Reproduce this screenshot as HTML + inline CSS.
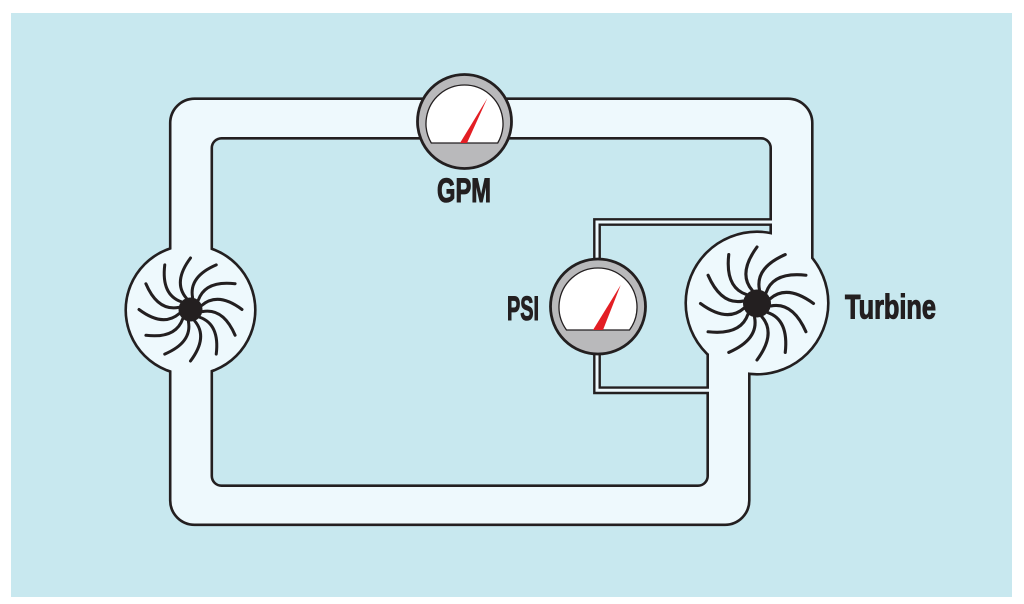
<!DOCTYPE html>
<html>
<head>
<meta charset="utf-8">
<style>
  html, body { margin: 0; padding: 0; background: #ffffff; }
  body { width: 1024px; height: 604px; overflow: hidden; }
  svg { display: block; }
  .lbl { font-family: "Liberation Sans", "DejaVu Sans", sans-serif; font-weight: bold; font-size: 34px; fill: #231f20; stroke: #231f20; stroke-width: 1.1; }
</style>
</head>
<body>
<svg width="1024" height="604" viewBox="0 0 1024 604" xmlns="http://www.w3.org/2000/svg">
  <!-- background -->
  <rect x="0" y="0" width="1024" height="604" fill="#ffffff"/>
  <rect x="11" y="13" width="1001" height="584" fill="#c8e8ef"/>

  <!-- PASS 1: strokes -->
  <g stroke="#231f20" stroke-width="5.2" fill="#eef9fd">
    <path fill-rule="evenodd" d="M 194.5 100 H 788 A 23 23 0 0 1 811 123 V 275 L 748 360 V 500.5 A 23 23 0 0 1 725 523.5 H 194.5 A 23 23 0 0 1 171.5 500.5 V 123 A 23 23 0 0 1 194.5 100 Z
      M 221.5 137 H 761 A 11 11 0 0 1 772 148 V 240 L 709 345 V 476 A 11 11 0 0 1 698 487 H 221.5 A 11 11 0 0 1 210.5 476 V 148 A 11 11 0 0 1 221.5 137 Z"/>
    <circle cx="190.5" cy="310" r="63.5"/>
    <circle cx="757" cy="303" r="70"/>
  </g>
  <g fill="none" stroke="#231f20" stroke-width="7.8" stroke-linejoin="miter">
    <path d="M 597 262 V 222 H 778"/>
    <path d="M 597 352 V 390.3 H 715"/>
  </g>

  <!-- PASS 2: fills (union) -->
  <g stroke="none" fill="#eef9fd">
    <path fill-rule="evenodd" d="M 194.5 100 H 788 A 23 23 0 0 1 811 123 V 275 L 748 360 V 500.5 A 23 23 0 0 1 725 523.5 H 194.5 A 23 23 0 0 1 171.5 500.5 V 123 A 23 23 0 0 1 194.5 100 Z
      M 221.5 137 H 761 A 11 11 0 0 1 772 148 V 240 L 709 345 V 476 A 11 11 0 0 1 698 487 H 221.5 A 11 11 0 0 1 210.5 476 V 148 A 11 11 0 0 1 221.5 137 Z"/>
    <circle cx="190.5" cy="310" r="63.5"/>
    <circle cx="757" cy="303" r="70"/>
  </g>
  <g fill="none" stroke="#eef9fd" stroke-width="3" stroke-linejoin="miter">
    <path d="M 597 262 V 222 H 781"/>
    <path d="M 597 352 V 390.3 H 718"/>
  </g>

  <!-- Left pump blades -->
  <g transform="translate(190.5 309.5)" fill="none" stroke="#231f20" stroke-width="3" stroke-linecap="round">
    <path d="M 11.3 -4.1 Q 27.5 -18 51.5 0" transform="rotate(0)"/>
    <path d="M 11.3 -4.1 Q 27.5 -18 51.5 0" transform="rotate(30)"/>
    <path d="M 11.3 -4.1 Q 27.5 -18 51.5 0" transform="rotate(60)"/>
    <path d="M 11.3 -4.1 Q 27.5 -18 51.5 0" transform="rotate(90)"/>
    <path d="M 11.3 -4.1 Q 27.5 -18 51.5 0" transform="rotate(120)"/>
    <path d="M 11.3 -4.1 Q 27.5 -18 51.5 0" transform="rotate(150)"/>
    <path d="M 11.3 -4.1 Q 27.5 -18 51.5 0" transform="rotate(180)"/>
    <path d="M 11.3 -4.1 Q 27.5 -18 51.5 0" transform="rotate(210)"/>
    <path d="M 11.3 -4.1 Q 27.5 -18 51.5 0" transform="rotate(240)"/>
    <path d="M 11.3 -4.1 Q 27.5 -18 51.5 0" transform="rotate(270)"/>
    <path d="M 11.3 -4.1 Q 27.5 -18 51.5 0" transform="rotate(300)"/>
    <path d="M 11.3 -4.1 Q 27.5 -18 51.5 0" transform="rotate(330)"/>
    <circle cx="0" cy="0" r="12" fill="#231f20" stroke="none"/>
  </g>

  <!-- Turbine blades -->
  <g transform="translate(757 303.5)" fill="none" stroke="#231f20" stroke-width="3.1" stroke-linecap="round">
    <path d="M 13.2 -4.8 Q 30 -19.5 56.5 0" transform="rotate(0)"/>
    <path d="M 13.2 -4.8 Q 30 -19.5 56.5 0" transform="rotate(30)"/>
    <path d="M 13.2 -4.8 Q 30 -19.5 56.5 0" transform="rotate(60)"/>
    <path d="M 13.2 -4.8 Q 30 -19.5 56.5 0" transform="rotate(90)"/>
    <path d="M 13.2 -4.8 Q 30 -19.5 56.5 0" transform="rotate(120)"/>
    <path d="M 13.2 -4.8 Q 30 -19.5 56.5 0" transform="rotate(150)"/>
    <path d="M 13.2 -4.8 Q 30 -19.5 56.5 0" transform="rotate(180)"/>
    <path d="M 13.2 -4.8 Q 30 -19.5 56.5 0" transform="rotate(210)"/>
    <path d="M 13.2 -4.8 Q 30 -19.5 56.5 0" transform="rotate(240)"/>
    <path d="M 13.2 -4.8 Q 30 -19.5 56.5 0" transform="rotate(270)"/>
    <path d="M 13.2 -4.8 Q 30 -19.5 56.5 0" transform="rotate(300)"/>
    <path d="M 13.2 -4.8 Q 30 -19.5 56.5 0" transform="rotate(330)"/>
    <circle cx="0" cy="0" r="14" fill="#231f20" stroke="none"/>
  </g>

  <!-- GPM gauge -->
  <circle cx="464.5" cy="121.5" r="47" fill="#b9b9bb" stroke="#231f20" stroke-width="2.8"/>
  <path d="M 431.3 143 A 38.5 38.5 0 1 1 497.7 143 Z" fill="#ffffff" stroke="#231f20" stroke-width="1.3"/>
  <polygon points="460,143 467,143 487.3,98.3" fill="#e31e24"/>

  <!-- PSI gauge -->
  <circle cx="598" cy="306.5" r="47.5" fill="#b9b9bb" stroke="#231f20" stroke-width="2.8"/>
  <path d="M 566.5 330 A 39 39 0 1 1 629.5 330 Z" fill="#ffffff" stroke="#231f20" stroke-width="1.3"/>
  <polygon points="593,330 603,330 620.7,285" fill="#e31e24"/>

  <!-- Labels -->
  <text class="lbl" x="437" y="202" textLength="54" lengthAdjust="spacingAndGlyphs">GPM</text>
  <text class="lbl" x="507" y="320" textLength="32" lengthAdjust="spacingAndGlyphs">PSI</text>
  <text class="lbl" x="845" y="318.5" textLength="91" lengthAdjust="spacingAndGlyphs">Turbine</text>
</svg>
</body>
</html>
